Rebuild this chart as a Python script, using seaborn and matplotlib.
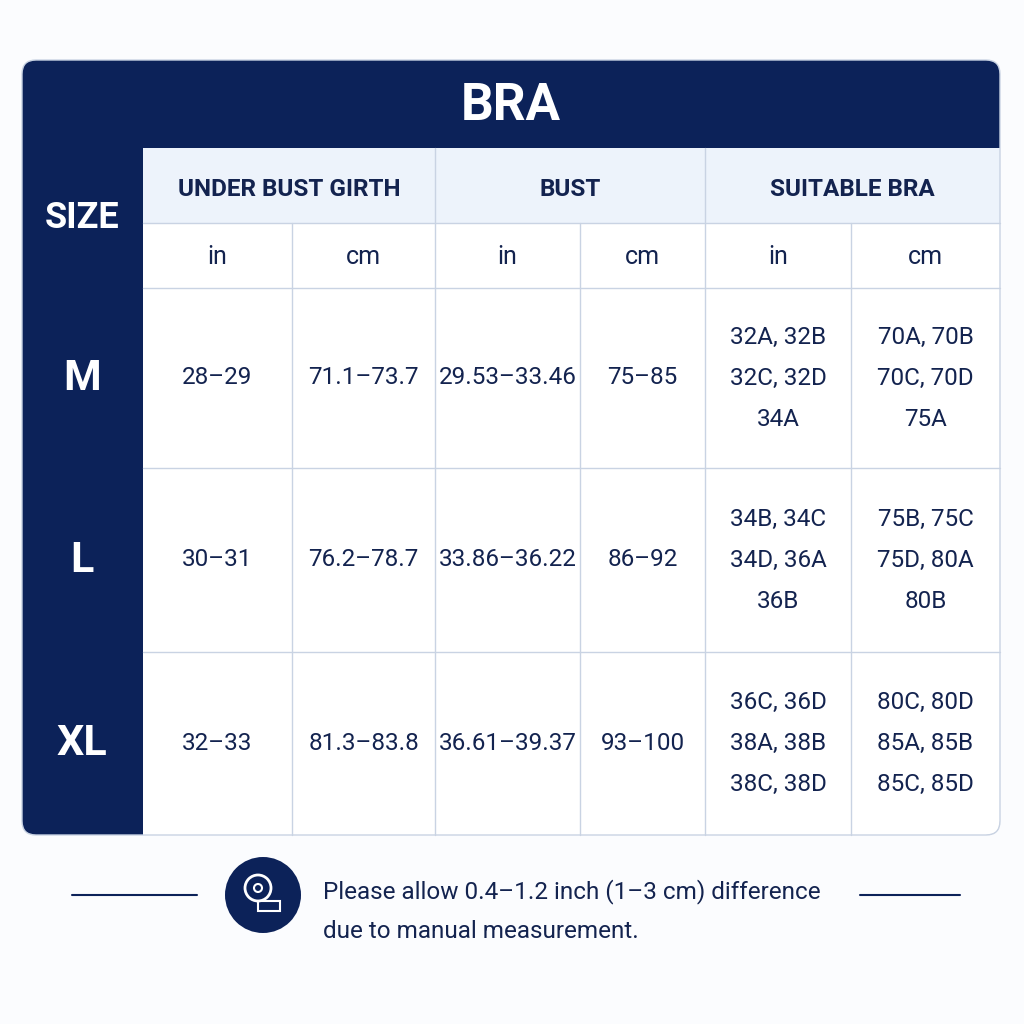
import matplotlib
matplotlib.use("Agg")
import matplotlib.pyplot as plt
import seaborn as sns
from matplotlib.patches import FancyBboxPatch, Rectangle, Circle

sns.set_theme(style="white")
plt.rcParams['font.family'] = ['Roboto', 'DejaVu Sans']

title = "BRA"
groups = ["UNDER BUST GIRTH", "BUST", "SUITABLE BRA"]
units = ["in", "cm", "in", "cm", "in", "cm"]
sizes = ["M", "L", "XL"]
under_in = ["28–29", "30–31", "32–33"]
under_cm = ["71.1–73.7", "76.2–78.7", "81.3–83.8"]
bust_in = ["29.53–33.46", "33.86–36.22", "36.61–39.37"]
bust_cm = ["75–85", "86–92", "93–100"]
bra_in = ["32A, 32B\n32C, 32D\n34A", "34B, 34C\n34D, 36A\n36B", "36C, 36D\n38A, 38B\n38C, 38D"]
bra_cm = ["70A, 70B\n70C, 70D\n75A", "75B, 75C\n75D, 80A\n80B", "80C, 80D\n85A, 85B\n85C, 85D"]
note = "Please allow 0.4–1.2 inch (1–3 cm) difference\ndue to manual measurement."

NAVY = "#0c2259"
LIGHT = "#edf3fb"
GRID = "#c9d3e3"
TXT = "#13234f"

fig = plt.figure(figsize=(10.24, 10.24), dpi=100)
fig.patch.set_facecolor("#fbfcfe")
ax = fig.add_axes([0, 0, 1, 1])
ax.set_xlim(0, 1024); ax.set_ylim(1024, 0); ax.axis("off")

L, R, T, B = 22, 1000, 60, 835
ax.add_patch(FancyBboxPatch((L, T), R - L, B - T, boxstyle="round,pad=0,rounding_size=14", fc=NAVY, ec="none"))
ax.add_patch(FancyBboxPatch((100, 100), R - 100, B - 100, boxstyle="round,pad=0,rounding_size=14", fc="white", ec="none"))
ax.add_patch(Rectangle((L, 100), 143 - L, B - 14 - 100, fc=NAVY, ec="none"))
ax.add_patch(Rectangle((40, 100), 103, B - 100, fc=NAVY, ec="none"))
ax.add_patch(Rectangle((L, 80), R - L, 68, fc=NAVY, ec="none"))
ax.add_patch(Rectangle((40, T), R - 40 - 20, 88, fc=NAVY, ec="none"))
ax.add_patch(Rectangle((143, 148), R - 143, 75, fc=LIGHT, ec="none"))
ax.add_patch(FancyBboxPatch((L, T), R - L, B - T, boxstyle="round,pad=0,rounding_size=14", fc="none", ec=GRID, lw=1))

colx = [143, 292, 435, 580, 705, 851, 1000]
rowy = [288, 468, 652, 835]
for x in [435, 705]:
    ax.plot([x, x], [148, B], color=GRID, lw=1)
for x in [292, 580, 851]:
    ax.plot([x, x], [223, B], color=GRID, lw=1)
for y in [223, 288, 468, 652]:
    ax.plot([143, R], [y, y], color=GRID, lw=1)

ax.text((L + R) / 2, 106, title, color="white", fontsize=37, fontweight="bold", ha="center", va="center")
ax.text(82, 218, "SIZE", color="white", fontsize=26, fontweight="bold", ha="center", va="center")
for g, (a, b) in zip(groups, [(143, 435), (435, 705), (705, 1000)]):
    ax.text((a + b) / 2, 189, g, color=TXT, fontsize=17.5, fontweight="bold", ha="center", va="center")
for i, u in enumerate(units):
    ax.text((colx[i] + colx[i + 1]) / 2, 257, u, color=TXT, fontsize=18, ha="center", va="center")

cols = [under_in, under_cm, bust_in, bust_cm, bra_in, bra_cm]
for r, s in enumerate(sizes):
    cy = (rowy[r] + rowy[r + 1]) / 2
    ax.text(82, cy, s, color="white", fontsize=31, fontweight="bold", ha="center", va="center")
    for c, col in enumerate(cols):
        ax.text((colx[c] + colx[c + 1]) / 2, cy, col[r], color=TXT, fontsize=17.5,
                ha="center", va="center", linespacing=2.0)

ax.plot([72, 197], [895, 895], color=NAVY, lw=1.5)
ax.plot([860, 960], [895, 895], color=NAVY, lw=1.5)
ax.add_patch(Circle((263, 895), 38, fc=NAVY, ec="none"))
ax.add_patch(Circle((258, 888), 13, fc="none", ec="white", lw=2))
ax.add_patch(Circle((258, 888), 4, fc="none", ec="white", lw=1.5))
ax.add_patch(Rectangle((258, 901), 22, 10, fc="none", ec="white", lw=1.5))
ax.text(323, 911, note, color=TXT, fontsize=17.5, ha="left", va="center", linespacing=1.9)

fig.savefig("out.png", dpi=100, facecolor=fig.get_facecolor())
